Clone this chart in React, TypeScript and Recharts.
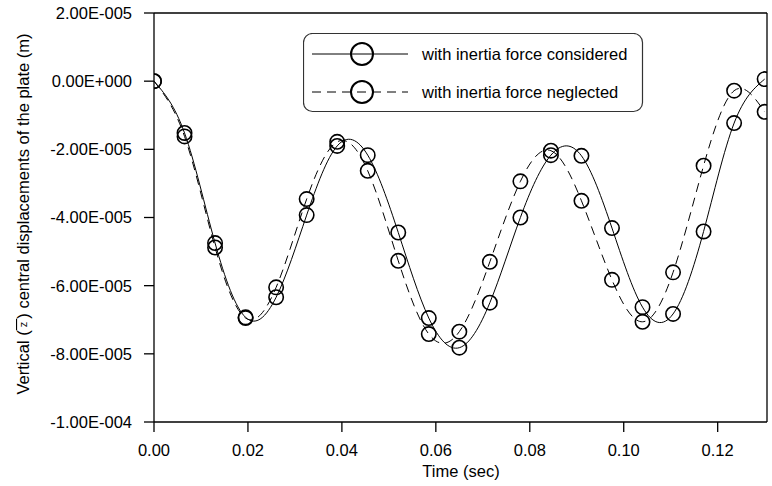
import React from "react";
import {
    ComposedChart,
    Line,
    XAxis,
    YAxis,
    Legend,
    ReferenceLine,
} from "recharts";

// sample times (sec)
const time = [
    0, 0.0065, 0.013, 0.0195, 0.026, 0.0325, 0.039, 0.0455, 0.052, 0.0585, 0.065,
    0.0715, 0.078, 0.0845, 0.091, 0.0975, 0.104, 0.1105, 0.117, 0.1235, 0.13,
];

// central displacement (m), inertia force considered
const considered = [
    0, -1.52e-5, -4.75e-5, -6.93e-5, -6.34e-5, -3.93e-5, -1.9e-5, -2.17e-5, -4.44e-5, -6.95e-5, -7.82e-5,
    -6.5e-5, -4.0e-5, -2.17e-5, -2.19e-5, -4.31e-5, -6.63e-5, -6.83e-5, -4.41e-5, -1.23e-5, 0.06e-5,
];

// central displacement (m), inertia force neglected
const neglected = [
    0, -1.62e-5, -4.88e-5, -6.95e-5, -6.05e-5, -3.46e-5, -1.78e-5, -2.63e-5, -5.27e-5, -7.42e-5, -7.35e-5,
    -5.3e-5, -2.94e-5, -2.04e-5, -3.51e-5, -5.83e-5, -7.06e-5, -5.61e-5, -2.48e-5, -0.28e-5, -0.9e-5,
];

const xTicks = [0, 0.02, 0.04, 0.06, 0.08, 0.1, 0.12];
const yTicks = [2e-5, 0, -2e-5, -4e-5, -6e-5, -8e-5, -1e-4];

const data = time.map((t, i) => ({ t, considered: considered[i], neglected: neglected[i] }));

const FONT = "'Liberation Sans', Arial, sans-serif";
const FS = 16.5;

// 2.00E-005 style labels
const sci = (v: number) => {
    if (Math.abs(v) < 1e-12) return "0.00E+000";
    const [m, e] = v.toExponential(2).split("e");
    const n = parseInt(e, 10);
    return `${m}E${n < 0 ? "-" : "+"}${String(Math.abs(n)).padStart(3, "0")}`;
};

// open circles, never dashed even on the dashed series
const markerDot = { r: 7.2, stroke: "#000", strokeWidth: 1.6, fill: "none", strokeDasharray: "none" };

const LegendBox = () => (
    <svg width={341} height={80} style={{ display: "block" }}>
        <rect x={0.5} y={0.5} width={339} height={78} rx={9} fill="#fff" stroke="#333" strokeWidth={1.2} />
        <line x1={9} x2={105} y1={21} y2={21} stroke="#000" strokeWidth={1} />
        <circle cx={59} cy={21} r={11} fill="none" stroke="#000" strokeWidth={2} />
        <text x={119} y={21} dominantBaseline="central" fontFamily={FONT} fontSize={FS} fill="#000">
            with inertia force considered
        </text>
        <line x1={9} x2={105} y1={59} y2={59} stroke="#000" strokeWidth={1} strokeDasharray="9 6" />
        <circle cx={59} cy={59} r={11} fill="none" stroke="#000" strokeWidth={2} />
        <text x={119} y={59} dominantBaseline="central" fontFamily={FONT} fontSize={FS} fill="#000">
            with inertia force neglected
        </text>
    </svg>
);

const YTitle = () => (
    <text
        transform="translate(23,214) rotate(-90)"
        textAnchor="middle"
        dominantBaseline="central"
        fontFamily={FONT}
        fontSize={FS}
        fill="#000"
    >
        Vertical (
        <tspan fontSize={11} style={{ textDecoration: "overline" }}>
            {"\u00a0z\u00a0"}
        </tspan>
        ) central displacements of the plate (m)
    </text>
);

const XTitle = () => (
    <text x={461} y={477} textAnchor="middle" fontFamily={FONT} fontSize={FS} fill="#000">
        Time (sec)
    </text>
);

const App = () => {
    return (
        <div style={{ position: "absolute", left: 0, top: 0, width: 772, height: 486, background: "#fff" }}>
            <ComposedChart
                width={772}
                height={486}
                data={data}
                margin={{ top: 13, right: 5, bottom: 0, left: 0 }}
                style={{ fontFamily: FONT }}
            >
                <XAxis
                    dataKey="t"
                    type="number"
                    domain={[0, 0.1305]}
                    ticks={xTicks}
                    tickFormatter={(v: number) => v.toFixed(2)}
                    height={64}
                    tickSize={10}
                    tickMargin={12}
                    allowDataOverflow
                    axisLine={{ stroke: "#000", strokeWidth: 1.3 }}
                    tickLine={{ stroke: "#000", strokeWidth: 1.3 }}
                    tick={{ fill: "#000", fontSize: FS, fontFamily: FONT }}
                    label={<XTitle />}
                />
                <YAxis
                    type="number"
                    domain={[-1e-4, 2e-5]}
                    ticks={yTicks}
                    tickFormatter={sci}
                    width={154}
                    tickSize={10}
                    tickMargin={12}
                    allowDataOverflow
                    axisLine={{ stroke: "#000", strokeWidth: 1.3 }}
                    tickLine={{ stroke: "#000", strokeWidth: 1.3 }}
                    tick={{ fill: "#000", fontSize: FS, fontFamily: FONT }}
                    label={<YTitle />}
                />
                <ReferenceLine y={2e-5} stroke="#000" strokeWidth={1.3} />
                <ReferenceLine x={0.1305} stroke="#000" strokeWidth={1.3} />
                <Legend
                    layout="vertical"
                    align="center"
                    verticalAlign="middle"
                    wrapperStyle={{ left: 303, top: 33, width: 341, height: 80 }}
                    content={() => <LegendBox />}
                />
                <Line
                    type="natural"
                    dataKey="considered"
                    name="with inertia force considered"
                    stroke="#000"
                    strokeWidth={1}
                    dot={markerDot}
                    isAnimationActive={false}
                />
                <Line
                    type="natural"
                    dataKey="neglected"
                    name="with inertia force neglected"
                    stroke="#000"
                    strokeWidth={1}
                    strokeDasharray="9 6"
                    dot={markerDot}
                    isAnimationActive={false}
                />
            </ComposedChart>
        </div>
    );
};

export default App;
